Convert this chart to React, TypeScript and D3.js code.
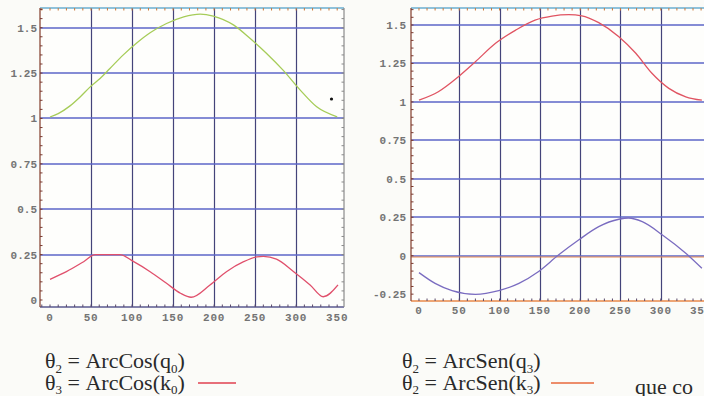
import React from "react";
import * as d3 from "d3";

// Left chart series (degrees -> value)
const leftGreenDeg = [0, 10, 24, 37, 49, 61, 73, 89, 106, 122, 142, 163, 183, 199, 224, 244, 264, 284, 305, 325, 350];
const leftGreenVal = [1.008, 1.027, 1.068, 1.12, 1.174, 1.22, 1.275, 1.349, 1.417, 1.472, 1.523, 1.56, 1.575, 1.564, 1.514, 1.44, 1.358, 1.266, 1.156, 1.064, 1.009];
const leftRedDeg = [0, 20, 41, 55, 85, 102, 122, 142, 159, 172, 195, 215, 236, 252, 260, 276, 297, 317, 333, 351];
const leftRedVal = [0.114, 0.156, 0.211, 0.25, 0.25, 0.211, 0.156, 0.092, 0.037, 0.015, 0.083, 0.156, 0.211, 0.237, 0.24, 0.225, 0.156, 0.083, 0.018, 0.083];

// Right chart series
const rightRedDeg = [0, 24, 49, 70, 95, 120, 144, 165, 186, 202, 223, 248, 269, 289, 310, 331, 351];
const rightRedVal = [1.011, 1.066, 1.164, 1.261, 1.381, 1.467, 1.532, 1.558, 1.567, 1.56, 1.515, 1.424, 1.316, 1.186, 1.088, 1.033, 1.011];
const rightBlueDeg = [0, 20, 41, 70, 99, 124, 148, 173, 198, 223, 248, 260, 277, 302, 331, 351];
const rightBlueVal = [-0.11, -0.18, -0.227, -0.251, -0.227, -0.18, -0.104, 0.004, 0.102, 0.189, 0.237, 0.245, 0.221, 0.135, 0.016, -0.082];

const xTicks = [0, 50, 100, 150, 200, 250, 300, 350];
const xGrid = [50, 100, 150, 200, 250, 300];
const leftYTicks = [0, 0.25, 0.5, 0.75, 1, 1.25, 1.5];
const leftYGrid = [0.25, 0.5, 0.75, 1, 1.25, 1.5];
const rightYTicks = [-0.25, 0, 0.25, 0.5, 0.75, 1, 1.25, 1.5];
const rightYGrid = [0, 0.25, 0.5, 0.75, 1, 1.25, 1.5];

const fmtLabel = (v: number) => String(v);

type Panel = {
  x0: number; x1: number; dom: [number, number];
  y0: number; y1: number; ydom: [number, number];
  yTicks: number[]; yGrid: number[];
  labelRight: number; xLabelY: number;
  bottomColor: string;
  series: { deg: number[]; val: number[]; color: string }[];
  clipId: string;
};

function ChartPanel({ p }: { p: Panel }) {
  const x = d3.scaleLinear().domain(p.dom).range([p.x0, p.x1]);
  const y = d3.scaleLinear().domain(p.ydom).range([p.y0, p.y1]);
  const minorX = d3.range(-10, 361, 10).filter((d) => x(d) > p.x0 + 1 && x(d) < p.x1 - 1);
  const minorY = d3.range(-0.3, 1.62, 0.05).filter((d) => y(d) < p.y0 - 1 && y(d) > p.y1 + 1);
  const line = d3.line<[number, number]>().x((d) => x(d[0])).y((d) => y(d[1])).curve(d3.curveMonotoneX);
  const r = (v: number) => Math.round(v);
  return (
    <g>
      <defs>
        <clipPath id={p.clipId}>
          <rect x={p.x0} y={p.y1} width={p.x1 - p.x0} height={p.y0 - p.y1} />
        </clipPath>
      </defs>
      <rect x={p.x0} y={p.y1} width={p.x1 - p.x0} height={p.y0 - p.y1} fill="#fefefc" />
      {/* vertical grid */}
      {xGrid.map((d) => (
        <line key={"v" + d} x1={r(x(d)) + 0.5} x2={r(x(d)) + 0.5} y1={p.y1} y2={p.y0} stroke="#44447a" strokeWidth={1.2} />
      ))}
      {/* horizontal grid */}
      {p.yGrid.map((d) => (
        <g key={"h" + d}>
          <line x1={p.x0} x2={p.x1} y1={r(y(d))} y2={r(y(d))} stroke="#5c66c8" strokeWidth={1.6} />
          {d === 0 && (
            <line x1={p.x0} x2={p.x1} y1={r(y(d)) + 1} y2={r(y(d)) + 1} stroke="#e88a50" strokeWidth={1} />
          )}
        </g>
      ))}
      {/* curves */}
      <g clipPath={`url(#${p.clipId})`}>
        {p.series.map((s, i) => (
          <path key={i} d={line(s.deg.map((d, j) => [d, s.val[j]] as [number, number])) || ""} fill="none" stroke={s.color} strokeWidth={1.3} />
        ))}
      </g>
      {/* frame */}
      <line x1={p.x0} x2={p.x1} y1={p.y1} y2={p.y1} stroke="#6aaed0" strokeWidth={1.3} />
      <line x1={p.x0} x2={p.x1} y1={p.y0} y2={p.y0} stroke={p.bottomColor} strokeWidth={1.4} />
      <line x1={p.x0} x2={p.x0} y1={p.y1} y2={p.y0} stroke="#8a4a3a" strokeWidth={1.3} />
      <line x1={p.x1} x2={p.x1} y1={p.y1} y2={p.y0} stroke="#8a8a8a" strokeWidth={1.2} />
      {/* minor ticks */}
      {minorX.map((d) => (
        <g key={"mx" + d}>
          <line x1={x(d)} x2={x(d)} y1={p.y1} y2={p.y1 + 2.5} stroke="#c8783c" strokeWidth={1} />
          <line x1={x(d)} x2={x(d)} y1={p.y0} y2={p.y0 - 2.5} stroke="#5a4a6a" strokeWidth={1} />
        </g>
      ))}
      {minorY.map((d) => (
        <g key={"my" + d}>
          <line x1={p.x0} x2={p.x0 + 2.5} y1={y(d)} y2={y(d)} stroke="#7a3a30" strokeWidth={1} />
          <line x1={p.x1} x2={p.x1 - 2.5} y1={y(d)} y2={y(d)} stroke="#8a8a8a" strokeWidth={1} />
        </g>
      ))}
      {/* tick labels */}
      {p.yTicks.map((d) => (
        <text key={"yl" + d} x={p.labelRight} y={y(d) + 4} textAnchor="end" fontFamily="Liberation Mono, DejaVu Sans Mono, monospace" fontWeight="bold" fontSize={11} fill="#747474">
          {fmtLabel(d)}
        </text>
      ))}
      {xTicks.map((d) => (
        <text key={"xl" + d} x={x(d)} y={p.xLabelY} textAnchor="middle" fontFamily="Liberation Mono, DejaVu Sans Mono, monospace" fontWeight="bold" fontSize={11} letterSpacing={0.8} fill="#747474">
          {d}
        </text>
      ))}
    </g>
  );
}

function Legend({ x, y, fn, a, b, sub1, sub2, lineFrom, lineTo, lineColor }: any) {
  const fs = 22;
  return (
    <g fontFamily="Liberation Serif, serif" fontSize={fs} fill="#2a2a2a">
      <text x={x} y={y}>
        θ<tspan fontSize={13} dy={5}>{sub1}</tspan>
        <tspan dy={-5}> = {fn}(q</tspan>
        <tspan fontSize={13} dy={5}>{a}</tspan>
        <tspan dy={-5}>)</tspan>
      </text>
      <text x={x} y={y + 22}>
        θ<tspan fontSize={13} dy={4}>{sub2}</tspan>
        <tspan dy={-4}> = {fn}(k</tspan>
        <tspan fontSize={13} dy={4}>{b}</tspan>
        <tspan dy={-4}>)</tspan>
      </text>
      <line x1={lineFrom} x2={lineTo} y1={y + 15} y2={y + 15} stroke={lineColor} strokeWidth={1.4} />
    </g>
  );
}

export default function App() {
  const left: Panel = {
    x0: 40, x1: 344, dom: [-12.2, 358.3],
    y0: 307, y1: 8, ydom: [-0.0386, 1.6085],
    yTicks: leftYTicks, yGrid: leftYGrid, labelRight: 37, xLabelY: 321,
    bottomColor: "#5a5a90",
    series: [
      { deg: leftGreenDeg, val: leftGreenVal, color: "#a6cc58" },
      { deg: leftRedDeg, val: leftRedVal, color: "#e0506c" },
    ],
    clipId: "clipL",
  };
  const right: Panel = {
    x0: 411, x1: 711, dom: [-9.9, 362.3],
    y0: 301, y1: 8, ydom: [-0.2945, 1.6105],
    yTicks: rightYTicks, yGrid: rightYGrid, labelRight: 406, xLabelY: 314,
    bottomColor: "#e8884a",
    series: [
      { deg: rightRedDeg, val: rightRedVal, color: "#e05462" },
      { deg: rightBlueDeg, val: rightBlueVal, color: "#7a6cc0" },
    ],
    clipId: "clipR",
  };
  return (
    <svg width={704} height={396} style={{ position: "fixed", left: 0, top: 0, background: "#fbfbf8" }}>
      <rect width={704} height={396} fill="#fbfbf8" />
      <ChartPanel p={left} />
      <ChartPanel p={right} />
      <circle cx={331.5} cy={99} r={1.6} fill="#111" />
      <Legend x={45} y={368} fn="ArcCos" a="0" b="0" sub1="2" sub2="3" lineFrom={198} lineTo={236} lineColor="#e04050" />
      <Legend x={402} y={368} fn="ArcSen" a="3" b="3" sub1="2" sub2="2" lineFrom={551} lineTo={594} lineColor="#e8683c" />
      <text x={635} y={394} fontFamily="Liberation Serif, serif" fontSize={22} fill="#2a2a2a">que co</text>
    </svg>
  );
}
